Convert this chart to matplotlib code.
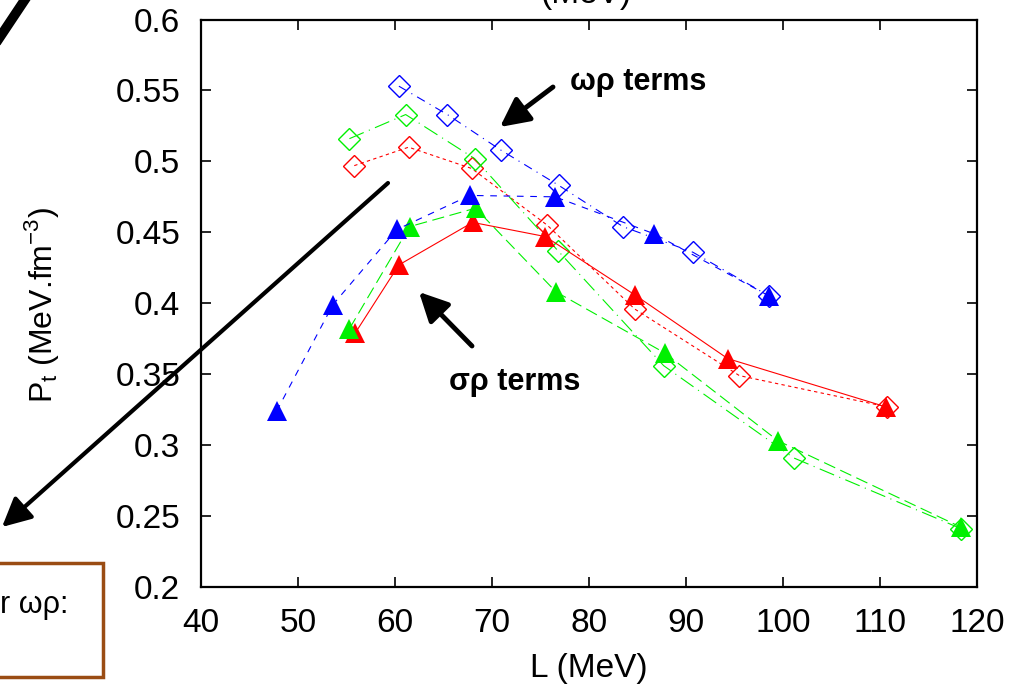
import matplotlib
matplotlib.use("Agg")
import matplotlib.pyplot as plt
from matplotlib.patches import Rectangle
from matplotlib.lines import Line2D

plt.rcParams["font.family"] = ["Liberation Sans", "DejaVu Sans"]

W, H = 1032, 688

# P_t vs L for the three parameter sets, sigma-rho (triangles) and omega-rho (diamonds)
L_red_tri = [55.9, 60.4, 68.0, 75.5, 84.7, 94.3, 110.6]
P_red_tri = [0.379, 0.427, 0.457, 0.447, 0.406, 0.361, 0.327]
L_red_dia = [55.8, 61.4, 67.9, 75.7, 84.7, 95.5, 110.7]
P_red_dia = [0.497, 0.510, 0.495, 0.455, 0.396, 0.349, 0.327]

L_green_tri = [55.3, 61.5, 68.3, 76.6, 87.8, 99.5, 118.4]
P_green_tri = [0.382, 0.454, 0.467, 0.408, 0.365, 0.303, 0.242]
L_green_dia = [55.3, 61.1, 68.2, 76.8, 87.7, 101.1, 118.4]
P_green_dia = [0.516, 0.533, 0.502, 0.437, 0.356, 0.291, 0.241]

L_blue_tri = [47.8, 53.6, 60.2, 67.7, 76.5, 86.7, 98.6]
P_blue_tri = [0.324, 0.399, 0.452, 0.476, 0.475, 0.449, 0.405]
L_blue_dia = [60.4, 65.4, 70.9, 76.9, 83.5, 90.7, 98.6]
P_blue_dia = [0.553, 0.533, 0.508, 0.483, 0.454, 0.436, 0.405]

x_ticks = [40, 50, 60, 70, 80, 90, 100, 110, 120]
y_ticks = [0.2, 0.25, 0.3, 0.35, 0.4, 0.45, 0.5, 0.55, 0.6]
y_ticklabels = ["0.2", "0.25", "0.3", "0.35", "0.4", "0.45", "0.5", "0.55", "0.6"]

fig = plt.figure(figsize=(W / 100, H / 100), dpi=100)
ax = fig.add_axes([201 / W, 101 / H, 776 / W, 567.5 / H])

lw = 0.8
dia = dict(marker="D", ms=11, mfc="none", mew=1.0, lw=lw)
tri = dict(marker="^", ms=15, mew=0, lw=lw)

ax.plot(L_red_dia, P_red_dia, color="#ff0000", dashes=(3, 3), **dia)
ax.plot(L_green_dia, P_green_dia, color="#00f000", dashes=(14, 5, 1, 5), **dia)
ax.plot(L_blue_dia, P_blue_dia, color="#0000ff", dashes=(8, 5, 1, 5), **dia)

ax.plot(L_red_tri, P_red_tri, color="#ff0000", ls="-", **tri)
ax.plot(L_green_tri, P_green_tri, color="#00f000", dashes=(11, 5), **tri)
ax.plot(L_blue_tri, P_blue_tri, color="#0000ff", dashes=(6, 6), **tri)

ax.set_xlim(40, 120)
ax.set_ylim(0.2, 0.6)
ax.set_xticks(x_ticks)
ax.set_yticks(y_ticks)
ax.set_yticklabels(y_ticklabels)
ax.tick_params(direction="in", length=7, width=1.2, top=True, right=True,
               labelsize=24, pad=15)
for s in ax.spines.values():
    s.set_linewidth(1.6)

fig.text(589 / W, 19 / H, "L (MeV)", fontsize=24, ha="center", va="center")
fig.text(42 / W, (H - 305) / H, r"P$_\mathregular{t}$ (MeV.fm$^\mathregular{-3}$)",
         fontsize=23, ha="center", va="center", rotation=90)

# heading running off the top edge
fig.text(586 / W, (H - 3) / H, "(MeV)", fontsize=24, ha="center", va="baseline")

# annotations
fig.text(638 / W, (H - 82) / H, "ωρ terms", fontsize=22, fontweight="bold",
         ha="center", va="center")
fig.text(515 / W, (H - 382) / H, "σρ terms", fontsize=22, fontweight="bold",
         ha="center", va="center")

head = "-|>,head_length=0.7,head_width=0.35"
ax.annotate("", xy=(500, H - 127), xycoords="figure pixels",
            xytext=(553, H - 87), textcoords="figure pixels",
            arrowprops=dict(arrowstyle=head, lw=3.5, color="black",
                            mutation_scale=25, shrinkA=0, shrinkB=0))
ax.annotate("", xy=(419, H - 292), xycoords="figure pixels",
            xytext=(472, H - 346), textcoords="figure pixels",
            arrowprops=dict(arrowstyle=head, lw=3.5, color="black",
                            mutation_scale=25, shrinkA=0, shrinkB=0))
ax.annotate("", xy=(2, H - 527), xycoords="figure pixels",
            xytext=(388, H - 183), textcoords="figure pixels",
            arrowprops=dict(arrowstyle=head, lw=3.0, color="black",
                            mutation_scale=25, shrinkA=0, shrinkB=0),
            annotation_clip=False)

# thick stroke in the top left corner
fig.add_artist(Line2D([-2 / W, 26 / W], [(H - 40) / H, (H + 2) / H],
                      color="black", lw=7, transform=fig.transFigure))

# framed note in the bottom left corner
fig.add_artist(Rectangle((-20 / W, 11 / H), 123 / W, 114 / H, fill=False,
                         ec="#9a4c14", lw=2.5, transform=fig.transFigure))
fig.text(68 / W, 83 / H, "r ωρ:", fontsize=22, ha="right", va="center")

fig.savefig("out.png", dpi=100)
